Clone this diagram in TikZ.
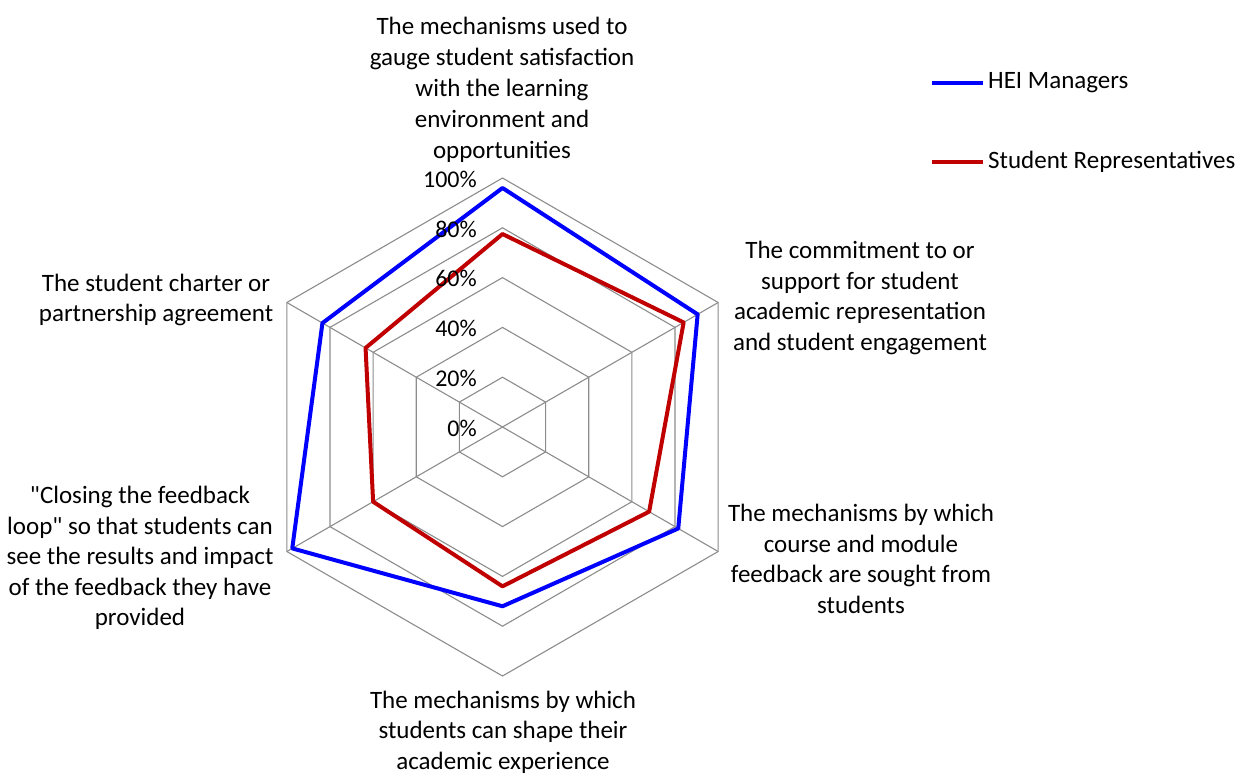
\documentclass[tikz,border=0pt]{standalone}
\usepackage{fontspec}
\setmainfont{Carlito}
\definecolor{heiblue}{RGB}{0,0,255}
\definecolor{stured}{RGB}{192,0,0}
\definecolor{gridgray}{RGB}{140,140,140}
\begin{document}
\begin{tikzpicture}[x=1pt,y=-1pt,
  grid/.style={draw=gridgray, line width=1.1pt},
  lab/.style={align=center, font=\fontsize{25}{30.5}\selectfont, inner sep=0pt, text=black},
  tick/.style={anchor=east, font=\fontsize{24}{28}\selectfont, inner sep=0pt, text=black},
  hei/.style={draw=heiblue, line width=4pt, line join=round},
  stu/.style={draw=stured, line width=4pt, line join=round},
  legtext/.style={anchor=west, font=\fontsize{25}{30}\selectfont, inner sep=0pt, text=black}]
\useasboundingbox (0,0) rectangle (1240,774);
\begin{scope}[shift={(502.5,427)}, x=1pt, y=1pt]
  \def\R{249}
  \coordinate (O) at (0,0);
  \foreach \a/\n in {90/A,30/B,-30/C,-90/D,-150/E,150/F}
    \coordinate (\n) at (\a:\R);
  % rings
  \foreach \k in {1,...,5}
    \draw[grid] (90:\k*\R/5) -- (30:\k*\R/5) -- (-30:\k*\R/5) -- (-90:\k*\R/5) -- (-150:\k*\R/5) -- (150:\k*\R/5) -- cycle;
  % spokes
  \draw[grid] (O) -- (B);
  \draw[grid] (O) -- (C);
  \draw[grid] (O) -- (E);
  \draw[grid] (O) -- (F);
  % data
  \coordinate (h1) at (90:0.96*\R);
  \coordinate (h2) at (30:0.905*\R);
  \coordinate (h3) at (-30:0.815*\R);
  \coordinate (h4) at (-90:0.72*\R);
  \coordinate (h5) at (-150:0.975*\R);
  \coordinate (h6) at (150:0.835*\R);
  \coordinate (s1) at (90:0.775*\R);
  \coordinate (s2) at (30:0.84*\R);
  \coordinate (s3) at (-30:0.68*\R);
  \coordinate (s4) at (-90:0.64*\R);
  \coordinate (s5) at (-150:0.60*\R);
  \coordinate (s6) at (150:0.635*\R);
  \draw[stu] (s1) -- (s2) -- (s3) -- (s4) -- (s5) -- (s6) -- cycle;
  \draw[hei] (h1) -- (h2) -- (h3) -- (h4) -- (h5) -- (h6) -- cycle;
\end{scope}
% tick labels
\node[tick] (t0) at (477,428) {0\%};
\node[tick] (t20) at (477,378) {20\%};
\node[tick] (t40) at (477,328.5) {40\%};
\node[tick] (t60) at (477,278.5) {60\%};
\node[tick] (t80) at (477,229) {80\%};
\node[tick] (t100) at (477,179) {100\%};
% category labels
\node[lab, font=\fontsize{25}{31}\selectfont] (l1) at (502,90) {The mechanisms used to\\gauge student satisfaction\\with the learning\\environment and\\opportunities};
\node[lab] (l2) at (860,298) {The commitment to or\\support for student\\academic representation\\and student engagement};
\node[lab] (l3) at (861,559) {The mechanisms by which\\course and module\\feedback are sought from\\students};
\node[lab] (l4) at (503,732) {The mechanisms by which\\students can shape their\\academic experience};
\node[lab] (l5) at (140,558) {\textquotedbl Closing the feedback\\loop\textquotedbl{} so that students can\\see the results and impact\\of the feedback they have\\provided};
\node[lab] (l6) at (156,300) {The student charter or\\partnership agreement};
% legend
\coordinate (lb1) at (932,83);
\coordinate (lb2) at (983,83);
\coordinate (lr1) at (932,161.5);
\coordinate (lr2) at (983,161.5);
\draw[hei] (lb1) -- (lb2);
\draw[stu] (lr1) -- (lr2);
\node[legtext] (leg1) at (988,83) {HEI Managers};
\node[legtext] (leg2) at (988,161.5) {Student Representatives};
\end{tikzpicture}
\end{document}
